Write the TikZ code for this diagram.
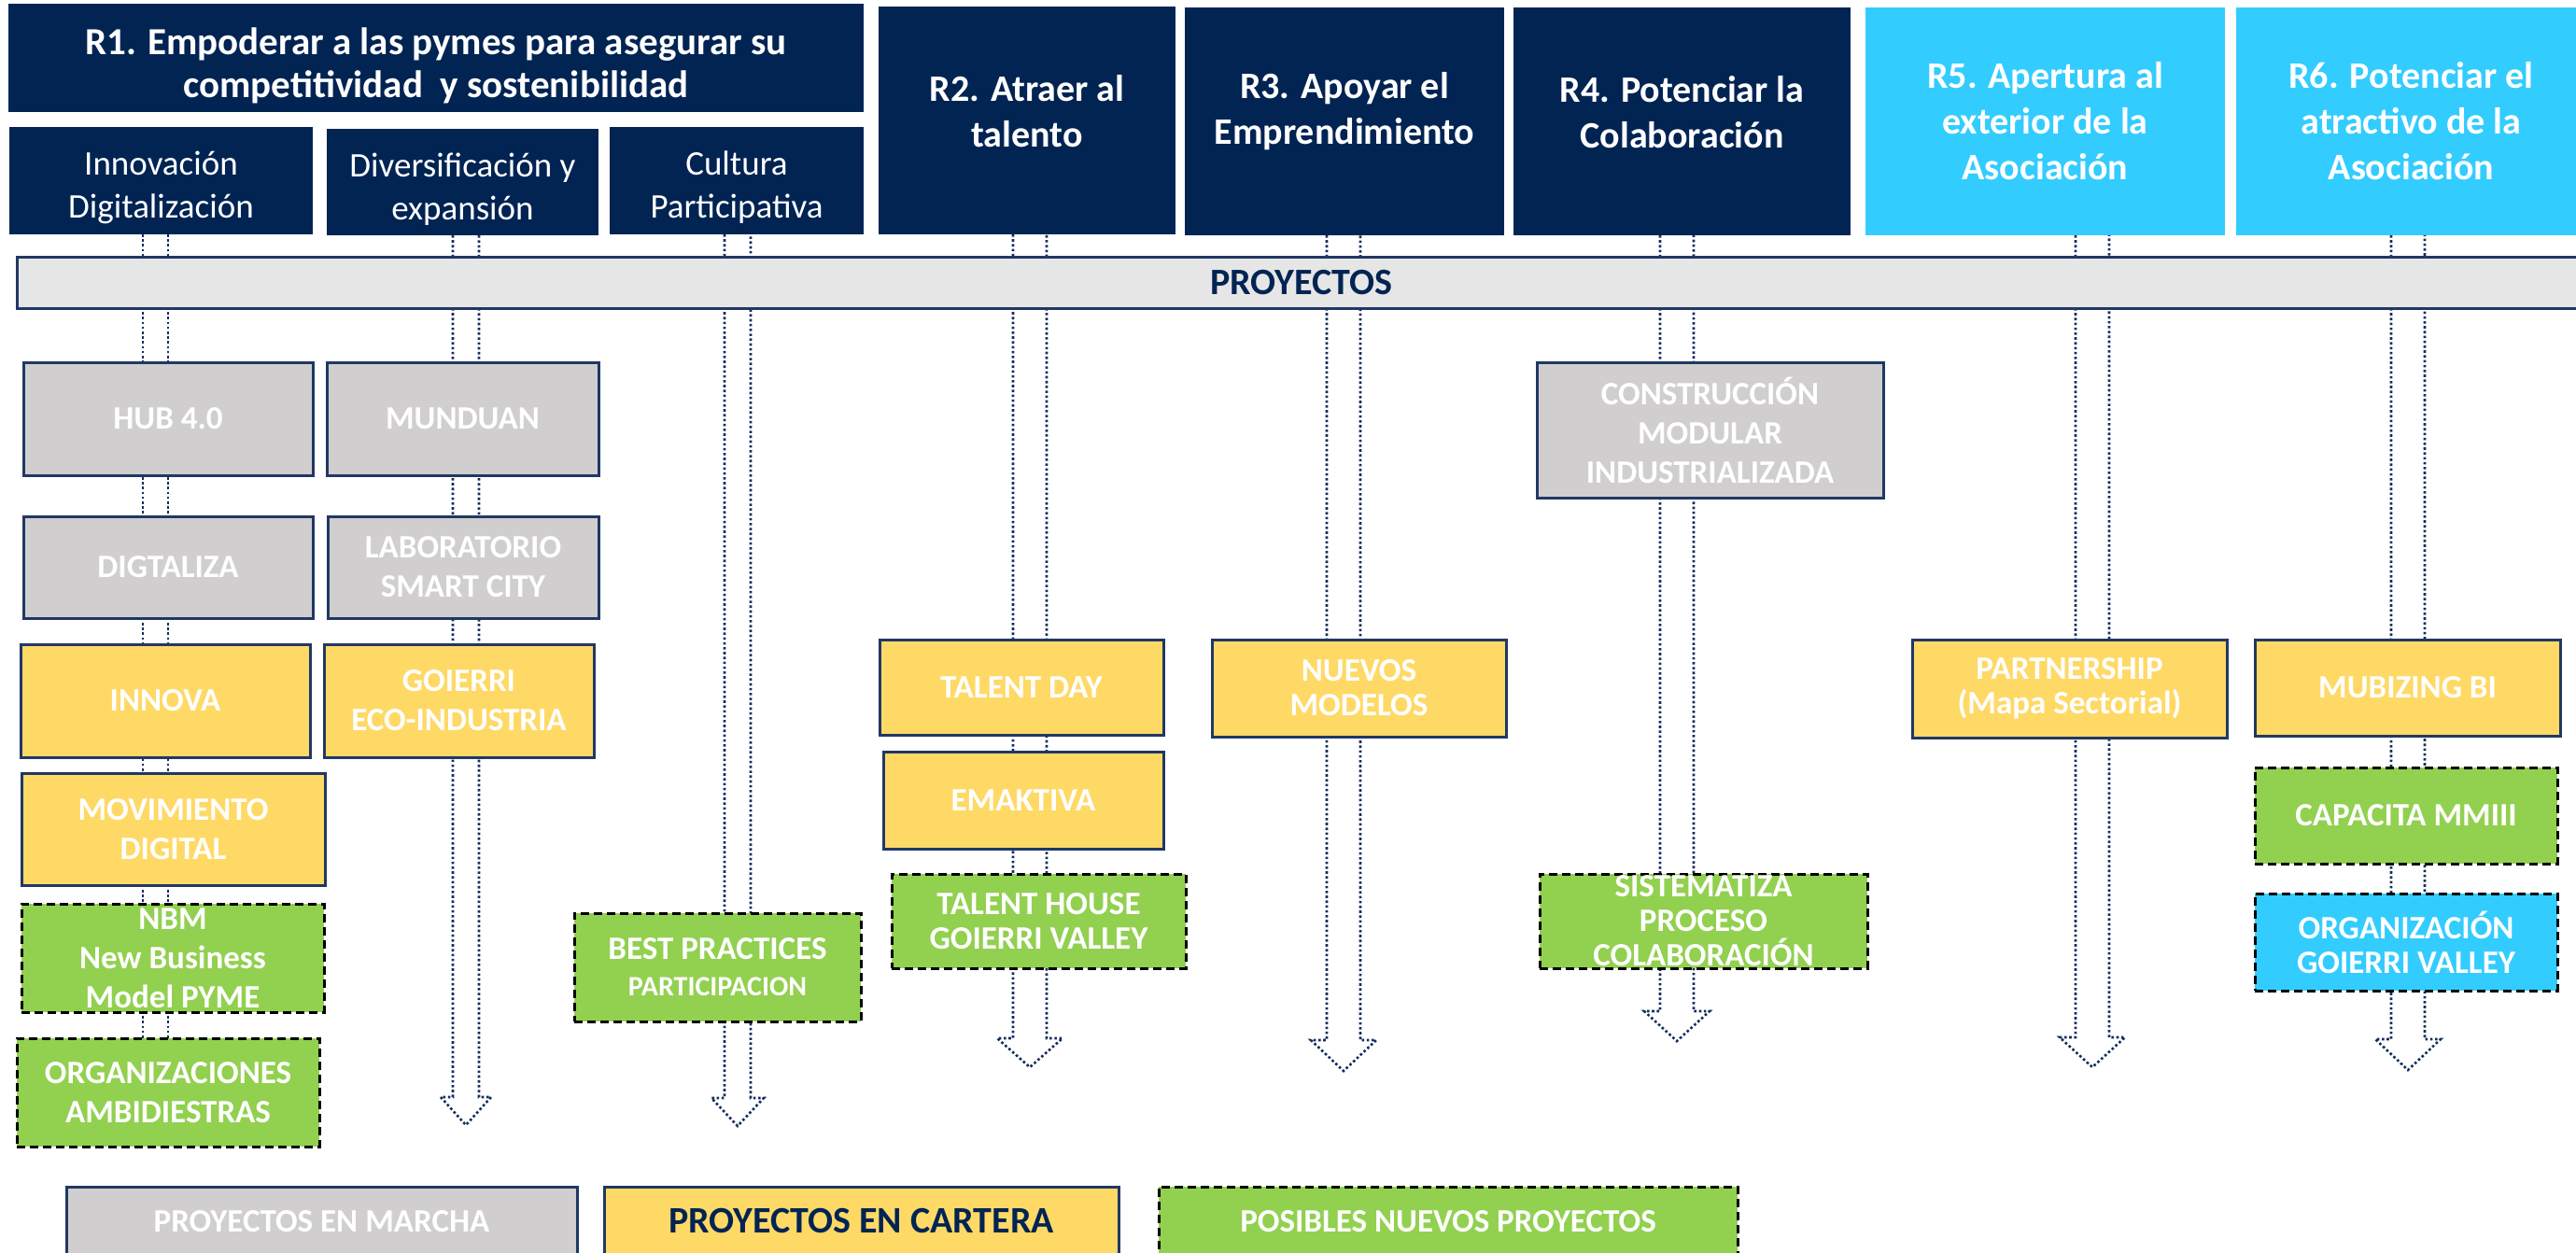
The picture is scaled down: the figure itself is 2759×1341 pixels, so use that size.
\documentclass[tikz,border=0pt]{standalone}
\usepackage{fontspec}
\setmainfont{Carlito}
\usetikzlibrary{calc}
\definecolor{navy}{RGB}{1,36,83}
\definecolor{edge}{RGB}{32,56,100}
\definecolor{dotc}{RGB}{20,45,95}
\definecolor{cyanbox}{RGB}{51,204,255}
\definecolor{grayb}{RGB}{208,206,206}
\definecolor{yell}{RGB}{255,217,102}
\definecolor{grn}{RGB}{146,208,80}
\definecolor{barfill}{RGB}{231,230,230}
\pgfdeclarelayer{bg}\pgfsetlayers{bg,main}
\tikzset{
 base/.style={inner sep=0pt, outer sep=0pt, align=center, text=white, font=\bfseries\fontsize{35}{42}\selectfont},
 hdr/.style={base, fill=navy, font=\bfseries\fontsize{40}{49}\selectfont},
 hdrone/.style={hdr, font=\bfseries\fontsize{41}{46}\selectfont},
 subhdr/.style={base, fill=navy, font=\fontsize{37}{46}\selectfont},
 cyhdr/.style={hdr, fill=cyanbox},
 run/.style={base, fill=grayb, draw=edge, line width=3pt},
 cart/.style={base, fill=yell, draw=edge, line width=3pt},
 newp/.style={base, fill=grn, draw=black, line width=3pt, dash pattern=on 9pt off 5pt},
 tight/.style={font=\bfseries\fontsize{35}{37}\selectfont},
 dotline/.style={draw=dotc, line width=2.6pt, dash pattern=on 2.6pt off 2.6pt},
}
\newcommand{\colarr}[5]{%
 \draw[dotline] ($(#1.south -| #2)+(-#3,0)$) -- ($(#2)+(-#3,-#5)$) -- ($(#2)+(-#4,-#5)$) -- (#2)
   -- ($(#2)+(#4,-#5)$) -- ($(#2)+(#3,-#5)$) -- ($(#1.south -| #2)+(#3,0)$);}
\newcommand{\up}[1]{\rule{0pt}{#1pt}}
\newcommand{\dn}[1]{\rule[-#1pt]{0pt}{0pt}}
\begin{document}
\begin{tikzpicture}[x=1pt,y=-1pt]
\useasboundingbox (0,0) rectangle (2759,1341);
\clip (0,0) rectangle (2759,1341);
% headers
\node[hdrone, minimum width=916pt, minimum height=116pt] (R1) at (467,62) {\up{45}R1. Empoderar a las pymes para asegurar su\\competitividad\ \ y sostenibilidad};
\node[subhdr, minimum width=325pt, minimum height=115pt] (sub1) at (172.5,193.5) {\up{40}Innovación\\Digitalización};
\node[subhdr, minimum width=291pt, minimum height=114pt] (sub2) at (495.5,195) {\up{40}Diversificación y\\expansión};
\node[subhdr, minimum width=272pt, minimum height=115pt] (sub3) at (789,193.5) {\up{40}Cultura\\Participativa};
\node[hdr, minimum width=318pt, minimum height=244pt] (R2) at (1100,129) {R2. Atraer al\\talento\dn{20}};
\node[hdr, minimum width=342pt, minimum height=244pt] (R3) at (1440,130) {R3. Apoyar el\\Emprendimiento\dn{28}};
\node[hdr, minimum width=361pt, minimum height=244pt] (R4) at (1801.5,130) {R4. Potenciar la\\Colaboración\dn{20}};
\node[cyhdr, minimum width=385pt, minimum height=244pt] (R5) at (2190.5,130) {R5. Apertura al\\exterior de la\\Asociación};
\node[cyhdr, minimum width=375pt, minimum height=244pt] (R6) at (2582.5,130) {R6. Potenciar el\\atractivo de la\\Asociación};
% bar
\node[base, fill=barfill, draw=edge, line width=3pt, text=navy, font=\bfseries\fontsize{40}{48}\selectfont,
  minimum width=2752pt, minimum height=55pt] (bar) at (1394,302.5) {PROYECTOS};
% running projects
\node[run, minimum width=310pt, minimum height=121pt] (hub) at (180,448.5) {HUB 4.0};
\node[run, minimum width=291pt, minimum height=121pt] (munduan) at (495.5,448.5) {MUNDUAN};
\node[run, minimum width=310pt, minimum height=109pt] (digtaliza) at (180,607.5) {DIGTALIZA};
\node[run, minimum width=290pt, minimum height=109pt] (labo) at (496,607.5) {LABORATORIO\\SMART CITY};
\node[run, minimum width=371pt, minimum height=145pt] (constr) at (1831.5,460.5) {CONSTRUCCIÓN\\MODULAR\\INDUSTRIALIZADA};
% portfolio projects
\node[cart, minimum width=310pt, minimum height=121pt] (innova) at (177,750.5) {INNOVA};
\node[cart, minimum width=289pt, minimum height=121pt] (goierri) at (491.5,750.5) {GOIERRI\\ECO-INDUSTRIA};
\node[cart, minimum width=325pt, minimum height=120pt] (movim) at (185.5,888) {MOVIMIENTO\\DIGITAL};
\node[cart, minimum width=304pt, minimum height=102pt] (talentday) at (1094,736) {TALENT DAY};
\node[cart, tight, minimum width=315pt, minimum height=104pt] (nuevos) at (1455.5,737) {NUEVOS\\MODELOS};
\node[cart, minimum width=300pt, minimum height=104pt] (emaktiva) at (1096,857) {EMAKTIVA};
\node[cart, tight, minimum width=337pt, minimum height=105pt] (partner) at (2216.5,737.5) {PARTNERSHIP\\(Mapa Sectorial)};
\node[cart, minimum width=327pt, minimum height=103pt] (mubizing) at (2578.5,736.5) {MUBIZING BI};
% possible new projects
\node[newp, minimum width=324pt, minimum height=116pt] (nbm) at (185,1026) {NBM\\New Business\\Model PYME};
\node[newp, minimum width=324pt, minimum height=116pt] (organiz) at (180,1170) {ORGANIZACIONES\\AMBIDIESTRAS};
\node[newp, minimum width=307pt, minimum height=116pt] (best) at (768.5,1036) {BEST PRACTICES\\[-3pt]{\fontsize{30}{36}\selectfont PARTICIPACION}};
\node[newp, tight, minimum width=315pt, minimum height=101pt] (thouse) at (1112.5,986.5) {TALENT HOUSE\\GOIERRI VALLEY};
\node[newp, tight, minimum width=351pt, minimum height=101pt] (sistem) at (1824.5,986.5) {SISTEMATIZA\\PROCESO\\COLABORACIÓN};
\node[newp, minimum width=324pt, minimum height=103pt] (capacita) at (2577,873.5) {CAPACITA MMIII};
\node[newp, tight, fill=cyanbox, minimum width=324pt, minimum height=104pt] (orggv) at (2577,1009) {ORGANIZACIÓN\\GOIERRI VALLEY};
% legend
\node[run, minimum width=547pt, minimum height=74pt] (leg1) at (344.5,1308) {PROYECTOS EN MARCHA};
\node[cart, text=navy, font=\bfseries\fontsize{40}{48}\selectfont, minimum width=551pt, minimum height=74pt] (leg2) at (922.5,1308) {PROYECTOS EN CARTERA};
\node[newp, minimum width=620pt, minimum height=74pt] (leg3) at (1551,1308) {POSIBLES NUEVOS PROYECTOS};
% arrow tips
\coordinate (e1) at (166.5,1112);
\coordinate (t2) at (499,1205);
\coordinate (t3) at (790,1206);
\coordinate (tR2) at (1103,1143);
\coordinate (tR3) at (1439,1147);
\coordinate (tR4) at (1796,1115);
\coordinate (tR5) at (2241,1143);
\coordinate (tR6) at (2579,1146);
\begin{pgfonlayer}{bg}
 \fill[white] (0,0) rectangle (2759,1341);
 \draw[dotline] ($(sub1.south -| e1)+(-13.5,0)$) -- ($(e1)+(-13.5,0)$);
 \draw[dotline] ($(sub1.south -| e1)+(13.5,0)$) -- ($(e1)+(13.5,0)$);
 \colarr{sub2}{t2}{14}{27}{30}
 \colarr{sub3}{t3}{14}{28}{30}
 \colarr{R2}{tR2}{18}{35}{31}
 \colarr{R3}{tR3}{18}{35}{33}
 \colarr{R4}{tR4}{18}{35}{32}
 \colarr{R5}{tR5}{18}{35}{32}
 \colarr{R6}{tR6}{18}{35}{33}
\end{pgfonlayer}
\end{tikzpicture}
\end{document}
